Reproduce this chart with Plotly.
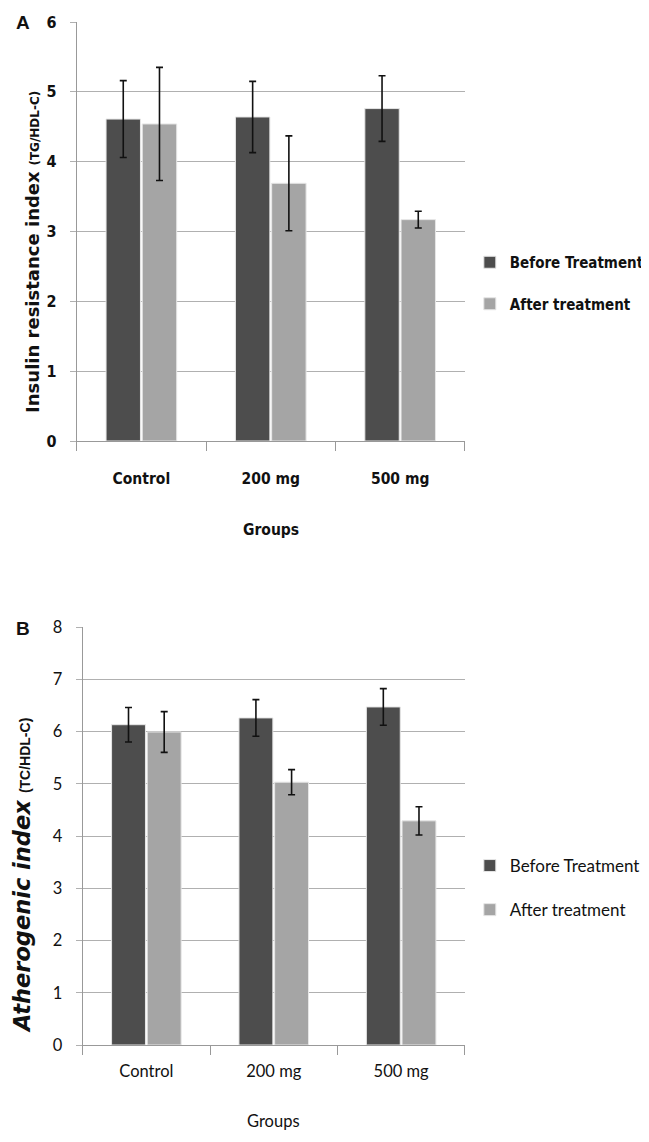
import plotly.graph_objects as go

# page body adds an 8px margin; work in screen pixels and compensate
OFF = 8
W, H = 649 - OFF, 1142 - OFF

groups = ["Control", "200 mg", "500 mg"]
series = ["Before Treatment", "After treatment"]

# Panel A: Insulin resistance index (TG/HDL-C)
a_before = [4.61, 4.64, 4.76]
a_before_err = [0.55, 0.51, 0.47]
a_after = [4.54, 3.69, 3.17]
a_after_err = [0.81, 0.68, 0.12]

# Panel B: Atherogenic index (TC/HDL-C)
b_before = [6.13, 6.26, 6.47]
b_before_err = [0.33, 0.35, 0.35]
b_after = [5.99, 5.03, 4.29]
b_after_err = [0.39, 0.24, 0.27]

c_before = "#4d4d4d"
c_after = "#a5a5a5"
grid = "#b0b0b0"

def px_x(p):
    return (p - OFF) / W

def px_y(p):
    return 1 - (p - OFF) / H

fig = go.Figure()

def add_bars(vals, errs, name, color, xa, ya, legend, group):
    fig.add_trace(go.Bar(
        x=groups, y=vals, name=name, xaxis=xa, yaxis=ya, legend=legend,
        legendgroup=group,
        marker=dict(color=color, line=dict(color="#e6e6e6", width=1)),
        error_y=dict(type="data", array=errs, visible=True, color="#111111",
                     thickness=1.6, width=3.5),
    ))

add_bars(a_before, a_before_err, series[0], c_before, "x", "y", "legend", "a1")
add_bars(a_after, a_after_err, series[1], c_after, "x", "y", "legend", "a2")
add_bars(b_before, b_before_err, series[0], c_before, "x2", "y2", "legend2", "b1")
add_bars(b_after, b_after_err, series[1], c_after, "x2", "y2", "legend2", "b2")

fA = "DejaVu Sans Condensed"
fontB = dict(family="Lato", size=16.5, color="#111111")

xcommon = dict(type="category", tickson="boundaries", ticks="outside", ticklen=9,
               tickcolor="#999999", showline=True, linecolor="#999999",
               showgrid=False, zeroline=False, automargin=False)
ycommon = dict(ticks="outside", ticklen=6, tickcolor=grid, showline=True,
               linecolor="#999999", showgrid=True, gridcolor=grid, gridwidth=1,
               zeroline=False, dtick=1, automargin=False)

fig.update_layout(
    template="none",
    width=W, height=H,
    margin=dict(l=0, r=0, t=0, b=0),
    paper_bgcolor="white", plot_bgcolor="white",
    barmode="group", bargap=0.44, bargroupgap=0.05,
    xaxis=dict(domain=[px_x(77), px_x(467)], anchor="y", ticklabelstandoff=23,
               tickfont=dict(family=fA, size=15.5, color="#111111", weight="bold"),
               **xcommon),
    yaxis=dict(domain=[px_y(441), px_y(22)], anchor="x", range=[0, 6],
               ticklabelstandoff=10,
               tickfont=dict(family=fA, size=16, color="#111111", weight="bold"),
               **ycommon),
    xaxis2=dict(domain=[px_x(83), px_x(467)], anchor="y2", ticklabelstandoff=11,
                tickfont=fontB, **xcommon),
    yaxis2=dict(domain=[px_y(1045), px_y(627)], anchor="x2", range=[0, 8],
                ticklabelstandoff=10,
                tickfont=fontB, **ycommon),
    legend=dict(x=px_x(472), y=px_y(283), xanchor="left", yanchor="middle",
                font=dict(family=fA, size=15, color="#111111", weight="bold"),
                itemwidth=30, tracegroupgap=19, bgcolor="rgba(0,0,0,0)"),
    legend2=dict(x=px_x(472), y=px_y(888), xanchor="left", yanchor="middle",
                 font=dict(family="Lato", size=17, color="#111111"),
                 itemwidth=30, tracegroupgap=19, bgcolor="rgba(0,0,0,0)"),
    annotations=[
        dict(text="<b>A</b>", x=px_x(14), y=px_y(22), xref="paper", yref="paper",
             xanchor="left", yanchor="middle", showarrow=False,
             font=dict(family="Liberation Sans", size=19, color="#111111")),
        dict(text="<b>B</b>", x=px_x(14), y=px_y(628), xref="paper", yref="paper",
             xanchor="left", yanchor="middle", showarrow=False,
             font=dict(family="Liberation Sans", size=19, color="#111111")),
        dict(text="<b>Insulin resistance index</b> <span style='font-size:12px'><b>(TG/HDL-C)</b></span>",
             x=px_x(32), y=px_y(252), xref="paper", yref="paper", textangle=-90,
             xanchor="center", yanchor="middle", showarrow=False,
             font=dict(family="DejaVu Sans", size=18, color="#111111")),
        dict(text="<b><i>Atherogenic index</i></b> <span style='font-size:14px;font-family:Liberation Sans'><b>(TC/HDL-C)</b></span>",
             x=px_x(22), y=px_y(875), xref="paper", yref="paper", textangle=-90,
             xanchor="center", yanchor="middle", showarrow=False,
             font=dict(family="DejaVu Sans", size=22.5, color="#111111")),
        dict(text="<b>Groups</b>", x=px_x(272), y=px_y(530), xref="paper", yref="paper",
             xanchor="center", yanchor="middle", showarrow=False,
             font=dict(family=fA, size=15.5, color="#111111")),
        dict(text="Groups", x=px_x(275), y=px_y(1121), xref="paper", yref="paper",
             xanchor="center", yanchor="middle", showarrow=False,
             font=dict(family="Lato", size=16.5, color="#111111")),
    ],
)

fig.write_html("out.html")
